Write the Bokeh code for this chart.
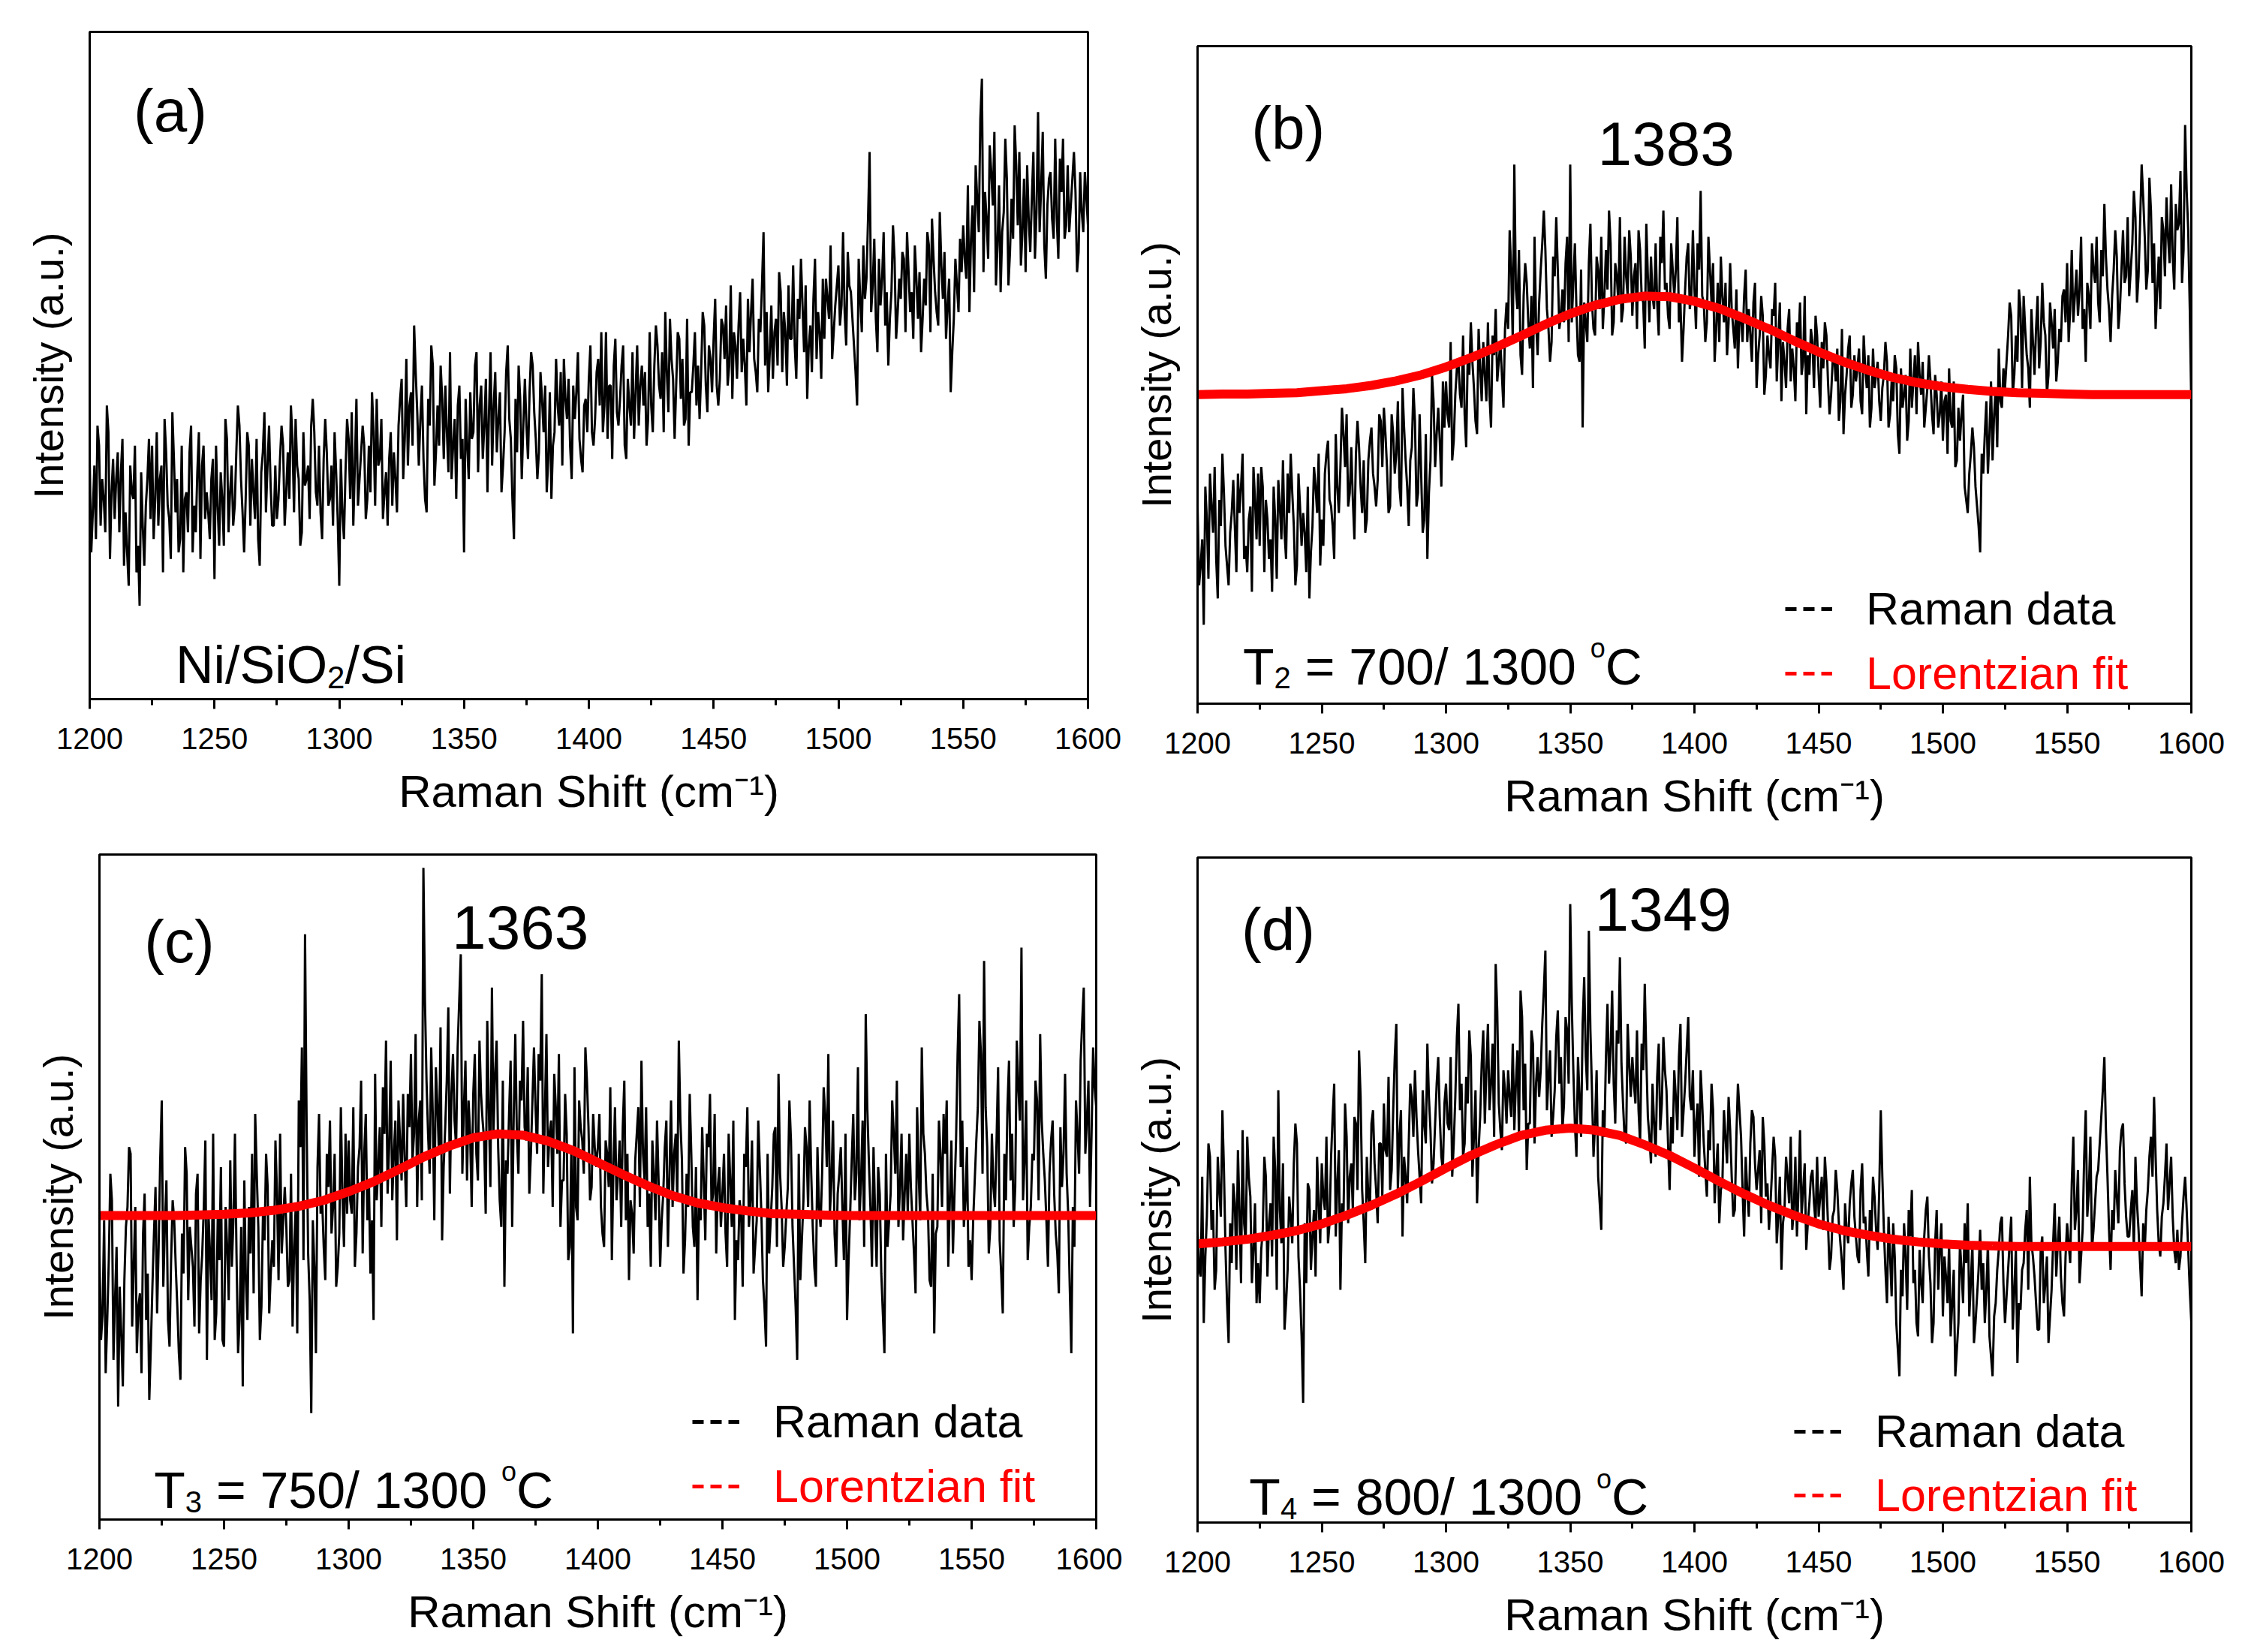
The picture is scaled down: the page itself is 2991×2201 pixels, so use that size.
import numpy as np
from bokeh.core.properties import value
from bokeh.embed import file_html
from bokeh.layouts import column, row
from bokeh.models import FixedTicker, Legend, LegendItem, Range1d, SingleIntervalTicker
from bokeh.plotting import figure
from bokeh.resources import INLINE

FONT = "Liberation Sans"

# Raman shift sample positions (cm-1): full points every 1.25, half points in between
shift = np.linspace(1200, 1600, 641)
fit_shift = np.arange(1200, 1601, 10)

# intensities, % of the panel height, 20 values per 25 cm-1
raman_a = [
    36, 28, 24, 38, 33, 25, 40, 31, 27, 37, 34, 20, 22, 35, 30, 19, 14, 26, 29, 39,
    38, 30, 26, 35, 42, 29, 21, 36, 33, 24, 19, 31, 37, 22, 25, 40, 35, 27, 28, 33,
    18, 29, 34, 23, 39, 31, 26, 37, 41, 28, 30, 38, 36, 27, 24, 34, 43, 35, 32, 26,
    27, 36, 38, 31, 30, 39, 42, 33, 25, 32, 35, 41, 40, 29, 28, 36, 37, 30, 26, 34,
    17, 28, 34, 39, 43, 35, 29, 37, 38, 30, 31, 40, 45, 36, 27, 34, 36, 29, 33, 41,
    48, 39, 35, 46, 56, 43, 42, 36, 28, 41, 50, 37, 38, 45, 47, 34, 33, 42, 44, 36,
    22, 38, 46, 40, 52, 44, 36, 48, 43, 35, 49, 42, 31, 40, 53, 39, 24, 37, 45, 41,
    41, 46, 50, 39, 37, 45, 47, 36, 30, 40, 44, 49, 51, 42, 38, 47, 46, 39, 34, 45,
    48, 40, 42, 51, 55, 44, 39, 47, 50, 43, 45, 53, 36, 44, 52, 46, 41, 50, 49, 42,
    44, 50, 53, 45, 40, 49, 57, 48, 47, 54, 51, 42, 38, 46, 55, 50, 49, 56, 43, 51,
    54, 47, 48, 56, 59, 50, 45, 53, 56, 49, 50, 60, 58, 51, 46, 55, 70, 58, 52, 48,
    57, 64, 49, 55, 62, 54, 53, 60, 66, 52, 45, 56, 60, 51, 55, 63, 63, 57, 51, 59,
    65, 59, 58, 67, 61, 53, 44, 60, 68, 63, 82, 62, 57, 66, 63, 56, 50, 61, 66, 58,
    60, 66, 70, 58, 54, 63, 64, 57, 59, 68, 72, 61, 56, 65, 67, 59, 46, 57, 62, 69,
    71, 63, 58, 74, 80, 70, 93, 76, 66, 79, 85, 68, 61, 73, 78, 67, 69, 80, 82, 70,
    64, 72, 75, 66, 88, 77, 68, 74, 79, 69, 72, 81, 84, 71, 70, 78, 76, 67, 73, 79,
    71,
]
raman_a_half = [
    22, 35, 41, 26, 30, 44, 21, 36, 33, 25, 39, 28, 17, 31, 38, 23, 34, 20, 33, 27,
    24, 40, 33, 19, 37, 27, 43, 28, 22, 38, 30, 25, 41, 29, 34, 21, 38, 31, 24, 36,
    38, 23, 30, 42, 25, 35, 29, 44, 33, 22, 40, 26, 31, 39, 20, 37, 28, 41, 26, 35,
    30, 41, 26, 37, 44, 28, 35, 23, 40, 33, 27, 45, 31, 38, 24, 42, 29, 35, 40, 27,
    36, 24, 42, 30, 26, 45, 33, 41, 27, 38, 46, 29, 35, 42, 31, 26, 40, 37, 28, 45,
    33, 51, 44, 38, 49, 35, 47, 30, 45, 53, 32, 44, 50, 36, 40, 52, 38, 30, 47, 39,
    45, 33, 39, 50, 34, 47, 41, 31, 52, 44, 37, 46, 35, 49, 42, 30, 45, 50, 33, 48,
    36, 52, 43, 33, 49, 40, 31, 46, 38, 51, 41, 35, 45, 48, 33, 42, 52, 36, 44, 40,
    53, 38, 49, 44, 40, 55, 47, 36, 54, 41, 50, 38, 48, 41, 39, 53, 47, 44, 38, 55,
    40, 56, 47, 52, 58, 43, 51, 39, 55, 45, 41, 57, 46, 50, 44, 42, 58, 47, 53, 46,
    60, 44, 57, 51, 47, 62, 55, 48, 61, 54, 44, 52, 63, 49, 57, 62, 50, 46, 59, 55,
    50, 61, 58, 47, 54, 65, 48, 57, 59, 62, 53, 49, 66, 58, 48, 54, 60, 68, 55, 62,
    56, 70, 53, 62, 57, 49, 66, 55, 60, 72, 58, 69, 52, 59, 70, 61, 57, 71, 54, 63,
    67, 55, 64, 61, 68, 57, 52, 63, 70, 55, 66, 58, 73, 60, 54, 63, 52, 66, 58, 64,
    66, 77, 69, 61, 75, 87, 64, 72, 83, 74, 62, 77, 70, 84, 62, 75, 86, 71, 65, 78,
    80, 67, 82, 73, 70, 85, 63, 78, 72, 84, 66, 76, 69, 80, 74, 82, 64, 79, 70, 75,
]
raman_b = [
    30, 21, 12, 28, 35, 26, 22, 31, 38, 24, 18, 29, 27, 35, 33, 22, 20, 30, 36, 25,
    24, 33, 31, 22, 17, 28, 34, 25, 26, 35, 38, 27, 21, 30, 29, 20, 16, 27, 33, 38,
    28, 35, 40, 30, 22, 33, 36, 41, 44, 32, 31, 38, 39, 29, 26, 37, 42, 33, 34, 43,
    45, 36, 30, 41, 38, 33, 48, 37, 27, 39, 43, 32, 35, 28, 22, 37, 46, 41, 40, 49,
    49, 42, 37, 47, 52, 45, 44, 53, 58, 48, 41, 51, 55, 46, 47, 56, 60, 52, 50, 57,
    57, 66, 82, 60, 53, 62, 64, 54, 48, 58, 61, 70, 69, 57, 55, 65, 66, 59, 58, 71,
    82, 64, 60, 52, 42, 58, 67, 61, 56, 66, 71, 62, 63, 70, 58, 65, 74, 60, 65, 72,
    59, 67, 72, 62, 54, 65, 68, 60, 61, 71, 75, 64, 57, 66, 66, 58, 52, 63, 70, 62,
    63, 70, 78, 61, 58, 66, 67, 57, 55, 62, 64, 58, 60, 54, 51, 59, 62, 55, 56, 61,
    48, 56, 59, 50, 53, 60, 64, 55, 46, 52, 57, 49, 51, 58, 61, 52, 44, 50, 55, 59,
    50, 55, 58, 49, 47, 53, 54, 46, 41, 50, 56, 47, 49, 54, 44, 51, 53, 45, 48, 52,
    43, 50, 52, 44, 46, 51, 38, 45, 50, 43, 45, 53, 55, 47, 42, 48, 49, 41, 47, 44,
    40, 47, 51, 42, 36, 45, 44, 33, 29, 38, 39, 30, 23, 35, 46, 41, 37, 48, 54, 45,
    48, 56, 59, 50, 52, 60, 62, 53, 45, 55, 57, 51, 64, 56, 50, 58, 60, 52, 55, 63,
    67, 60, 58, 66, 63, 57, 52, 62, 70, 64, 61, 69, 76, 63, 55, 66, 68, 60, 72, 65,
    62, 70, 74, 65, 82, 71, 66, 75, 70, 63, 60, 72, 77, 67, 68, 76, 73, 64, 88, 72,
    45,
]
raman_b_half = [
    18, 25, 33, 19, 30, 36, 16, 27, 32, 21, 26, 34, 20, 29, 38, 24, 28, 17, 31, 35,
    36, 20, 28, 25, 33, 19, 30, 37, 22, 29, 32, 18, 35, 24, 26, 33, 23, 36, 29, 21,
    24, 38, 31, 27, 41, 29, 45, 36, 30, 39, 25, 43, 33, 37, 28, 40, 35, 30, 44, 36,
    41, 29, 44, 35, 46, 30, 42, 33, 37, 48, 30, 44, 26, 41, 32, 50, 36, 45, 33, 42,
    44, 55, 40, 51, 47, 56, 39, 50, 52, 43, 57, 46, 50, 58, 42, 53, 49, 55, 45, 61,
    72, 55, 63, 69, 50, 67, 58, 62, 71, 53, 66, 75, 60, 52, 68, 74, 57, 63, 67, 55,
    58, 70, 53, 66, 61, 55, 73, 57, 68, 60, 57, 69, 75, 56, 67, 61, 58, 71, 62, 68,
    65, 57, 69, 61, 73, 58, 62, 70, 56, 67, 63, 59, 70, 62, 74, 61, 57, 68, 60, 72,
    57, 66, 62, 55, 71, 61, 52, 64, 68, 58, 53, 67, 57, 63, 59, 55, 66, 60, 52, 64,
    53, 62, 47, 56, 51, 59, 49, 61, 55, 48, 60, 54, 46, 55, 50, 62, 53, 57, 48, 56,
    45, 51, 56, 44, 52, 49, 43, 57, 47, 54, 45, 53, 51, 46, 56, 48, 42, 54, 50, 46,
    48, 55, 42, 49, 53, 41, 51, 47, 40, 54, 49, 44, 50, 52, 45, 53, 44, 50, 42, 49,
    46, 38, 43, 49, 37, 40, 47, 31, 35, 42, 33, 27, 38, 41, 35, 49, 44, 39, 46, 51,
    52, 61, 47, 56, 63, 48, 57, 51, 60, 50, 62, 55, 58, 47, 61, 54, 49, 57, 62, 58,
    55, 69, 62, 59, 71, 60, 64, 57, 66, 71, 58, 65, 68, 60, 62, 72, 57, 66, 64, 74,
    66, 78, 61, 73, 77, 63, 80, 64, 57, 68, 74, 65, 71, 79, 63, 72, 81, 69, 78, 60,
]
raman_c = [
    40, 31, 22, 39, 48, 33, 17, 28, 36, 47, 55, 38, 25, 34, 43, 30, 18, 35, 50, 41,
    63, 44, 30, 39, 45, 32, 21, 37, 52, 44, 38, 49, 28, 40, 57, 46, 33, 27, 46, 53,
    26, 41, 54, 45, 40, 30, 20, 36, 47, 55, 61, 44, 32, 42, 50, 37, 38, 49, 58, 45,
    44, 36, 29, 47, 63, 71, 88, 40, 16, 38, 53, 46, 41, 55, 60, 47, 35, 43, 49, 58,
    57, 46, 38, 53, 66, 55, 45, 37, 30, 48, 59, 65, 72, 56, 48, 60, 63, 51, 54, 64,
    70, 58, 47, 63, 98, 66, 52, 61, 68, 55, 42, 59, 77, 64, 60, 71, 85, 62, 51, 58,
    64, 55, 72, 60, 46, 62, 80, 67, 56, 44, 35, 52, 69, 61, 58, 66, 75, 57, 49, 63,
    62, 70, 82, 61, 53, 60, 67, 55, 44, 51, 58, 41, 28, 47, 63, 57, 71, 59, 50, 56,
    56, 47, 41, 55, 65, 53, 48, 57, 59, 45, 36, 46, 54, 62, 69, 51, 44, 38, 52, 60,
    38, 49, 60, 52, 47, 58, 72, 54, 42, 47, 55, 41, 33, 45, 51, 58, 64, 49, 40, 53,
    49, 43, 58, 44, 30, 39, 46, 55, 62, 48, 37, 45, 53, 36, 26, 40, 50, 59, 67, 47,
    41, 50, 57, 38, 24, 36, 48, 56, 63, 44, 35, 47, 52, 61, 70, 51, 43, 49, 56, 39,
    30, 46, 61, 52, 45, 60, 76, 54, 38, 46, 53, 37, 25, 41, 49, 58, 66, 50, 42, 55,
    58, 45, 34, 52, 71, 55, 46, 35, 28, 44, 55, 61, 63, 48, 40, 57, 79, 60, 48, 38,
    36, 51, 62, 70, 84, 56, 44, 50, 57, 42, 31, 48, 69, 58, 50, 65, 86, 54, 39, 47,
    54, 63, 73, 55, 45, 52, 60, 43, 34, 50, 67, 46, 25, 41, 58, 69, 80, 60, 47, 71,
    62,
]
raman_c_half = [
    27, 45, 30, 52, 24, 41, 35, 20, 44, 56, 29, 47, 32, 22, 49, 37, 26, 43, 31, 54,
    35, 51, 26, 48, 38, 25, 43, 56, 33, 41, 29, 52, 36, 47, 24, 40, 58, 31, 39, 27,
    47, 33, 38, 58, 25, 44, 51, 30, 40, 34, 52, 27, 46, 55, 31, 42, 57, 36, 40, 50,
    35, 52, 41, 28, 56, 39, 60, 33, 45, 25, 61, 48, 36, 50, 43, 55, 38, 62, 41, 46,
    48, 62, 43, 56, 40, 61, 51, 45, 67, 53, 44, 58, 49, 69, 55, 42, 57, 64, 47, 59,
    54, 73, 60, 48, 78, 58, 71, 45, 62, 74, 53, 66, 49, 70, 56, 78, 52, 69, 63, 47,
    70, 51, 64, 57, 75, 50, 58, 72, 48, 66, 54, 61, 44, 73, 52, 63, 59, 68, 55, 71,
    55, 66, 49, 73, 58, 47, 62, 70, 51, 64, 39, 56, 68, 45, 59, 52, 66, 48, 61, 53,
    61, 43, 57, 50, 39, 62, 52, 44, 66, 55, 48, 40, 58, 47, 55, 62, 49, 57, 45, 51,
    45, 56, 41, 63, 55, 48, 60, 37, 52, 64, 44, 53, 48, 59, 42, 56, 47, 61, 50, 44,
    55, 38, 51, 60, 42, 48, 35, 53, 44, 57, 41, 60, 46, 32, 55, 45, 58, 41, 52, 38,
    46, 63, 44, 32, 55, 42, 59, 47, 52, 38, 56, 44, 65, 53, 46, 60, 38, 52, 47, 58,
    39, 54, 48, 68, 51, 41, 62, 47, 56, 38, 49, 31, 55, 45, 63, 52, 44, 58, 49, 46,
    50, 40, 62, 45, 58, 49, 36, 52, 43, 60, 47, 55, 38, 57, 49, 70, 53, 44, 56, 42,
    45, 57, 75, 52, 62, 40, 58, 47, 68, 37, 55, 62, 51, 44, 72, 60, 48, 63, 44, 55,
    66, 48, 60, 51, 38, 57, 49, 40, 59, 55, 52, 35, 47, 63, 52, 75, 55, 66, 58, 65,
]
raman_d = [
    44, 37, 30, 46, 55, 47, 38, 50, 62, 41, 27, 39, 48, 56, 36, 45, 58, 49, 41, 33,
    33, 44, 52, 45, 40, 53, 65, 42, 29, 38, 46, 54, 57, 35, 18, 36, 50, 43, 37, 48,
    54, 47, 42, 55, 66, 51, 35, 46, 58, 52, 47, 60, 71, 50, 39, 49, 60, 54, 45, 57,
    63, 55, 50, 62, 75, 58, 43, 52, 57, 64, 68, 56, 48, 60, 72, 59, 54, 66, 61, 53,
    66, 59, 52, 64, 78, 66, 57, 63, 70, 58, 48, 61, 74, 68, 62, 72, 84, 63, 56, 65,
    68, 61, 59, 71, 80, 62, 53, 60, 72, 66, 64, 75, 86, 67, 58, 65, 77, 70, 63, 74,
    93, 68, 55, 64, 75, 70, 89, 65, 60, 52, 44, 58, 78, 71, 66, 74, 85, 63, 57, 69,
    70, 63, 62, 72, 81, 61, 54, 60, 67, 59, 73, 65, 50, 57, 64, 70, 58, 66, 76, 62,
    55, 63, 68, 57, 49, 56, 62, 53, 45, 51, 58, 64, 52, 47, 66, 58, 43, 50, 57, 61,
    50, 56, 61, 49, 44, 53, 55, 46, 38, 47, 52, 58, 47, 43, 59, 50, 41, 48, 53, 45,
    46, 52, 55, 45, 40, 47, 50, 42, 35, 44, 48, 53, 43, 39, 54, 46, 37, 43, 49, 41,
    62, 44, 33, 40, 45, 30, 22, 34, 40, 47, 50, 38, 28, 36, 43, 49, 36, 30, 47, 41,
    31, 37, 42, 33, 22, 30, 38, 45, 48, 36, 27, 34, 44, 39, 35, 28, 22, 33, 41, 46,
    30, 38, 46, 35, 24, 32, 39, 47, 52, 40, 33, 29, 43, 36, 27, 35, 48, 42, 37, 31,
    45, 39, 58, 47, 36, 44, 62, 50, 41, 48, 53, 61, 70, 52, 38, 44, 49, 56, 60, 46,
    43, 50, 55, 44, 34, 41, 50, 58, 64, 47, 40, 48, 57, 51, 46, 39, 38, 45, 52, 41,
    30,
]
raman_d_half = [
    38, 52, 40, 57, 44, 35, 55, 46, 53, 33, 45, 51, 38, 47, 59, 42, 52, 36, 48, 39,
    41, 55, 37, 48, 58, 35, 47, 54, 33, 49, 42, 60, 40, 28, 45, 51, 38, 47, 55, 42,
    49, 58, 45, 61, 43, 56, 48, 63, 45, 54, 61, 50, 64, 45, 55, 47, 62, 50, 57, 49,
    56, 67, 53, 70, 50, 62, 55, 48, 66, 58, 61, 52, 65, 57, 64, 51, 60, 70, 55, 63,
    60, 70, 57, 73, 62, 55, 67, 74, 52, 65, 56, 69, 60, 75, 66, 58, 77, 59, 68, 60,
    64, 72, 66, 58, 76, 69, 60, 74, 57, 70, 68, 80, 62, 71, 61, 73, 66, 59, 76, 66,
    78, 60, 70, 58, 82, 65, 74, 55, 68, 48, 62, 70, 66, 80, 60, 72, 69, 58, 75, 64,
    66, 74, 57, 68, 70, 58, 66, 55, 72, 63, 68, 57, 61, 68, 59, 75, 62, 71, 64, 68,
    60, 52, 63, 53, 59, 66, 48, 57, 50, 62, 54, 59, 46, 58, 62, 50, 55, 46, 62, 54,
    53, 45, 57, 51, 48, 58, 42, 52, 45, 55, 48, 44, 55, 50, 46, 54, 45, 52, 48, 55,
    49, 44, 51, 38, 46, 53, 45, 39, 48, 42, 51, 46, 40, 50, 45, 41, 47, 52, 44, 50,
    52, 38, 46, 34, 40, 26, 38, 45, 32, 43, 36, 30, 41, 33, 47, 40, 27, 42, 35, 45,
    40, 33, 28, 38, 26, 42, 33, 39, 31, 42, 30, 38, 35, 30, 42, 25, 31, 38, 45, 36,
    34, 42, 29, 41, 33, 38, 44, 35, 42, 37, 29, 41, 33, 40, 31, 42, 37, 46, 33, 40,
    42, 51, 44, 53, 40, 55, 46, 58, 44, 52, 57, 65, 59, 44, 47, 53, 45, 59, 51, 43,
    47, 41, 48, 39, 45, 47, 55, 52, 55, 42, 46, 52, 47, 55, 41, 44, 40, 49, 47, 35,
]

# Lorentzian fits, every 10 cm-1
fit_b = [
    47.0, 47.1, 47.1, 47.2, 47.3, 47.6, 47.9, 48.4, 49.1, 50.0,
    51.2, 52.6, 54.2, 55.9, 57.7, 59.3, 60.6, 61.5, 62.0, 61.9,
    61.2, 60.1, 58.6, 57.0, 55.2, 53.5, 52.0, 50.7, 49.6, 48.8,
    48.2, 47.8, 47.5, 47.3, 47.2, 47.1, 47.0, 47.0, 47.0, 47.0,
    47.0,
]
fit_c = [
    45.7, 45.7, 45.7, 45.7, 45.8, 45.9, 46.1, 46.5, 47.1, 48.0,
    49.3, 50.8, 52.6, 54.5, 56.1, 57.4, 58.0, 57.8, 56.9, 55.5,
    53.7, 51.9, 50.2, 48.7, 47.6, 46.9, 46.4, 46.0, 45.9, 45.8,
    45.7, 45.7, 45.7, 45.7, 45.7, 45.7, 45.7, 45.7, 45.7, 45.7,
    45.7,
]
fit_d = [
    41.9, 42.2, 42.6, 43.2, 43.9, 44.9, 46.2, 47.7, 49.4, 51.3,
    53.3, 55.2, 56.8, 58.2, 59.0, 59.3, 59.0, 58.2, 56.8, 55.2,
    53.3, 51.3, 49.4, 47.7, 46.2, 44.9, 43.9, 43.2, 42.6, 42.2,
    41.9, 41.7, 41.6, 41.5, 41.5, 41.5, 41.5, 41.5, 41.5, 41.5,
    41.5,
]

peak_labels = ["1383", "1363", "1349"]
anneal_labels = [("2", "700"), ("3", "750"), ("4", "800")]

# Arial advance widths (em) for the characters used in the annotations
ADV = {" ": .278, "=": .584, "/": .278, "T": .611, "C": .722, "o": .556,
       "N": .722, "i": .222, "S": .667, "O": .778}


def merge(full, half):
    # full points and the half points between them, in x order
    out = []
    for a, b in zip(full, half):
        out += [a, b]
    return out + full[len(half):]


def text_width(s, size):
    return sum(ADV.get(ch, .556) for ch in s) * size


def rich_text(p, x, y, pieces, px_per_unit):
    # pieces: (text, font size px, baseline shift px upwards); svg drops edge spaces,
    # so they are turned into offsets
    off = 0
    for s, size, dy in pieces:
        core = s.strip()
        off += text_width(s[:len(s) - len(s.lstrip())], size)
        p.text(x=[x], y=[y + dy / px_per_unit], text=[core], x_offset=off,
               text_font=value(FONT), text_font_size=f"{size}px",
               text_align="left", text_baseline="alphabetic", text_color="black")
        off += text_width(core, size) + text_width(s[len(s.rstrip()):], size)


def make_panel(raman, fit, borders, letter, letter_xy):
    left, right, top, bottom = borders
    p = figure(width=1495, height=1100, output_backend="svg", toolbar_location=None,
               title=None, x_range=Range1d(1200, 1600), y_range=Range1d(0, 100),
               min_border_left=left, min_border_right=right,
               min_border_top=top, min_border_bottom=bottom)
    p.grid.visible = False
    p.outline_line_color = "black"
    p.outline_line_width = 3
    p.outline_line_alpha = 1

    p.line(shift, raman, line_color="black", line_width=3)
    if fit is not None:
        p.line(fit_shift, fit, line_color="#ff0000", line_width=12)

    xa = p.xaxis[0]
    xa.ticker = SingleIntervalTicker(interval=50, num_minor_ticks=2)
    xa.axis_label = "Raman Shift (cm\u207b\u00b9)"
    xa.axis_label_text_font = FONT
    xa.axis_label_text_font_size = "60px"
    xa.axis_label_text_font_style = "normal"
    xa.axis_label_text_color = "black"
    xa.axis_label_standoff = 20
    xa.major_label_text_font = FONT
    xa.major_label_text_font_size = "40px"
    xa.major_label_text_color = "black"
    xa.major_label_standoff = 25
    xa.major_tick_in = 0
    xa.major_tick_out = 13
    xa.minor_tick_in = 0
    xa.minor_tick_out = 8
    xa.major_tick_line_width = 3
    xa.minor_tick_line_width = 3
    xa.axis_line_width = 3

    ya = p.yaxis[0]
    ya.ticker = FixedTicker(ticks=[])
    ya.axis_label = "Intensity (a.u.)"
    ya.axis_label_text_font = FONT
    ya.axis_label_text_font_size = "56px"
    ya.axis_label_text_font_style = "normal"
    ya.axis_label_text_color = "black"
    ya.axis_label_standoff = 24
    ya.major_tick_out = 0
    ya.minor_tick_out = 0
    ya.axis_line_width = 3

    p.text(x=[letter_xy[0]], y=[letter_xy[1]], text=[letter],
           text_font=value(FONT), text_font_size="80px", text_color="black",
           text_align="left", text_baseline="middle")
    return p


def add_legend(p, loc_data, loc_fit):
    r1 = p.line(x=[np.nan], y=[np.nan], line_color="black", line_width=5,
                line_dash="15 9")
    r2 = p.line(x=[np.nan], y=[np.nan], line_color="#ff0000", line_width=5,
                line_dash="15 9")
    for r, label, color, loc in ((r1, "Raman data", "black", loc_data),
                                 (r2, "Lorentzian fit", "#ff0000", loc_fit)):
        lg = Legend(items=[LegendItem(label=label, renderers=[r])], location=loc,
                    label_text_font=FONT, label_text_font_size="61px",
                    label_text_color=color, glyph_width=63, glyph_height=70,
                    label_height=70, label_standoff=45, padding=0, margin=0,
                    spacing=0, border_line_alpha=0, background_fill_alpha=0)
        p.add_layout(lg, "center")


def add_peak(p, label, xy):
    p.text(x=[xy[0]], y=[xy[1]], text=[label], text_font=value(FONT),
           text_font_size="82px", text_color="black",
           text_align="center", text_baseline="middle")


def add_anneal(p, sub, temp, xy, ppu):
    rich_text(p, xy[0], xy[1], [("T", 68, 0), (sub, 40, -16),
                                (f" = {temp}/ 1300 ", 68, 0), ("o", 36, 24),
                                ("C", 68, 0)], ppu)


pa = make_panel(merge(raman_a, raman_a_half), None, (119, 46, 42, 169), "(a)",
                (1217.6, 88.2))
rich_text(pa, 1234.4, 5.1, [("Ni/SiO", 70, 0), ("2", 42, -16), ("/Si", 70, 0)], 8.97)

pb = make_panel(merge(raman_b, raman_b_half), fit_b, (100, 71, 61, 163), "(b)",
                (1221.7, 87.6))
add_peak(pb, peak_labels[0], (1388.6, 85.2))
add_anneal(pb, *anneal_labels[0], (1218.3, 5.7), 8.84)
add_legend(pb, (783, 91), (783, 5))

pc = make_panel(merge(raman_c, raman_c_half), fit_c, (132, 35, 38, 176), "(c)",
                (1218.0, 86.9))
add_peak(pc, peak_labels[1], (1368.9, 89.0))
add_anneal(pc, *anneal_labels[1], (1221.9, 4.5), 8.9)
add_legend(pc, (790, 95), (790, 9))

pd_ = make_panel(merge(raman_d, raman_d_half), fit_d, (100, 71, 42, 172), "(d)",
                 (1217.7, 89.2))
add_peak(pd_, peak_labels[2], (1387.4, 92.2))
add_anneal(pd_, *anneal_labels[2], (1220.8, 3.9), 8.9)
add_legend(pd_, (795, 86), (795, 1))

# each panel in its own column so the frames are not aligned across a row
page = column(row(column(pa), column(pb)), row(column(pc), column(pd_)))

with open("out.html", "w") as f:
    f.write(file_html(page, INLINE))
